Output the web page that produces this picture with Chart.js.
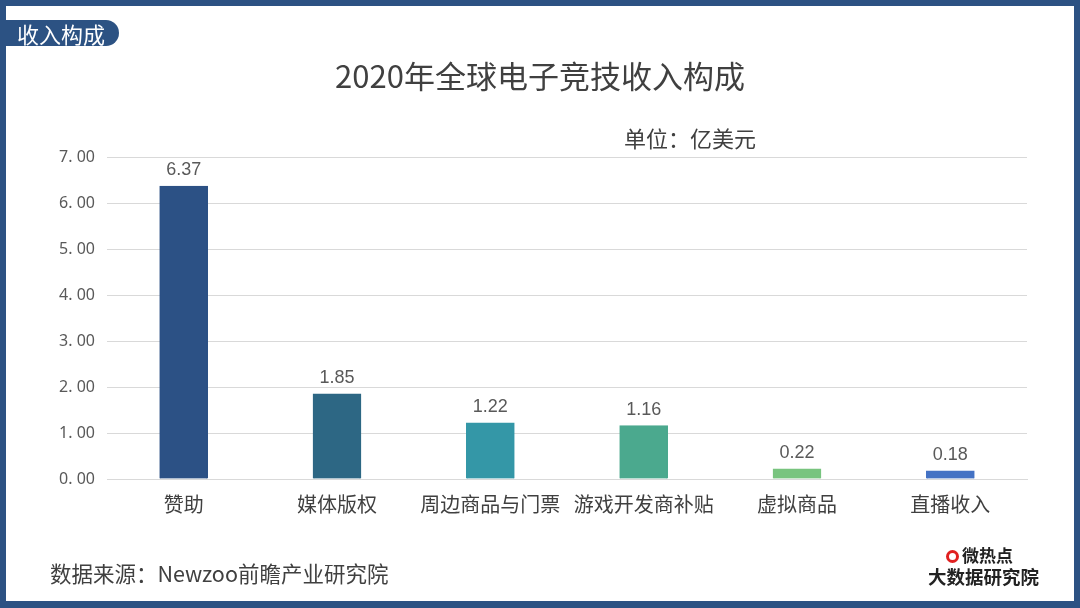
<!DOCTYPE html>
<html>
<head>
<meta charset="utf-8">
<script src="https://cdn.jsdelivr.net/npm/chart.js@4"></script>
<style>
  body { margin: 0; background: #fff; }
  #frame {
    position: relative; width: 1080px; height: 608px; box-sizing: border-box;
    border: 6px solid #2c5283; border-bottom-width: 7px; background: #fff; overflow: hidden;
    font-family: "Noto Sans CJK SC", "Noto Sans", sans-serif; color: #404040;
  }
  #chartBox { position: absolute; left: -6px; top: -6px; width: 1080px; height: 608px; }
  .badge {
    position: absolute; left: 0; top: 14px; width: 113px; height: 26px;
    background: #2c5283; color: #fff; border-radius: 0 13px 13px 0;
    font-size: 22px; line-height: 26px; padding-left: 11px; box-sizing: border-box;
  }
  .title { position: absolute; left: 0; width: 1068px; top: 46px; text-align: center; font-size: 31px; }
  .unit { position: absolute; left: 618px; top: 115px; font-size: 22px; }
  .source { position: absolute; left: 44px; top: 551px; font-size: 21.5px; }
  .logo { position: absolute; left: 922px; top: 538px; font-weight: bold; color: #222; }
  .logo .top { font-size: 17px; margin-left: 18px; line-height: 21px; }
  .logo .eye { display: inline-block; width: 13px; height: 13px; border: 3px solid #e02020; border-radius: 50%;
    box-sizing: border-box; vertical-align: -1px; margin-right: 3px; }
  .logo .bot { font-size: 18.5px; line-height: 23px; }
</style>
</head>
<body>
<div id="frame">
  <div id="chartBox"><canvas id="myChart" width="1080" height="608"></canvas></div>
  <div class="badge">收入构成</div>
  <div class="title">2020年全球电子竞技收入构成</div>
  <div class="unit">单位：亿美元</div>
  <div class="source">数据来源：Newzoo前瞻产业研究院</div>
  <div class="logo">
    <div class="top"><span class="eye"></span>微热点</div>
    <div class="bot">大数据研究院</div>
  </div>
</div>
<script>
const categories = ["赞助", "媒体版权", "周边商品与门票", "游戏开发商补贴", "虚拟商品", "直播收入"];
const revenue = [6.37, 1.85, 1.22, 1.16, 0.22, 0.18];
const barColors = ["#2c5185", "#2d6784", "#3497a7", "#4ba98e", "#78c47f", "#4472c4"];
const yTicks = [0, 1, 2, 3, 4, 5, 6, 7];

// value labels above bars
const valueLabels = {
  id: "valueLabels",
  afterDatasetsDraw(chart) {
    const ctx = chart.ctx;
    const meta = chart.getDatasetMeta(0);
    ctx.save();
    ctx.font = "18px 'Liberation Sans', sans-serif";
    ctx.fillStyle = "#595959";
    ctx.textAlign = "center";
    ctx.textBaseline = "bottom";
    meta.data.forEach(function (bar, i) {
      ctx.fillText(revenue[i].toFixed(2), bar.x, bar.y - 7);
    });
    ctx.restore();
  },
};

const data = {
  labels: categories,
  datasets: [
    {
      data: revenue,
      backgroundColor: barColors,
      borderColor: barColors,
      borderWidth: 1,
      barThickness: 48,
    },
  ],
};

const config = {
  type: "bar",
  data,
  options: {
    responsive: false,
    animation: false,
    layout: { padding: { top: 157, right: 53, bottom: 79, left: 0 } },
    plugins: { legend: { display: false }, tooltip: { enabled: false } },
    scales: {
      x: {
        grid: { display: false, drawTicks: false },
        border: { color: "#d9d9d9" },
        ticks: {
          color: "#404040",
          padding: 13,
          font: { size: 20, family: "'Noto Sans CJK SC', sans-serif" },
        },
        afterFit: function (scale) { scale.height = 50; },
      },
      y: {
        min: 0,
        max: 7,
        afterBuildTicks: function (scale) {
          scale.ticks = yTicks.map((v) => ({ value: v }));
        },
        grid: { color: "#d9d9d9", drawTicks: false },
        border: { display: false },
        ticks: {
          color: "#595959",
          padding: 12,
          font: { size: 16, family: "'Noto Sans', sans-serif" },
          callback: function (v) { return v.toFixed(2).replace(".", ". "); },
        },
        afterFit: function (scale) { scale.width = 107; },
      },
    },
  },
  plugins: [valueLabels],
};

const myChart = new Chart(document.getElementById("myChart"), config);
</script>
</body>
</html>
